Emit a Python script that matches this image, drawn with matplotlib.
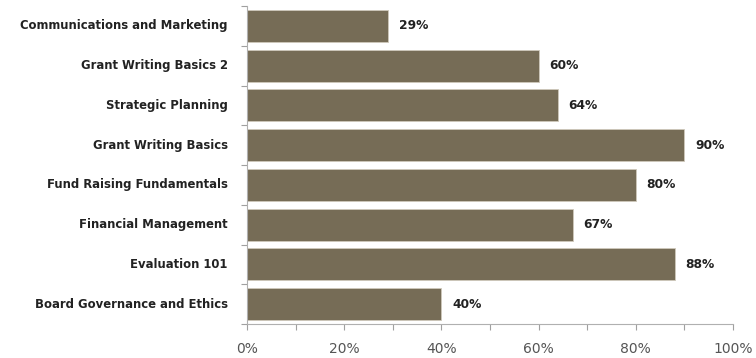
import matplotlib
matplotlib.use("Agg")
import matplotlib.pyplot as plt
import numpy as np
from matplotlib.ticker import FixedLocator, FuncFormatter

categories = ["Board Governance and Ethics", "Evaluation 101", "Financial Management",
              "Fund Raising Fundamentals", "Grant Writing Basics", "Strategic Planning",
              "Grant Writing Basics 2", "Communications and Marketing"]
values = [40, 88, 67, 80, 90, 64, 60, 29]
x_ticks = [0, 20, 40, 60, 80, 100]

fig = plt.figure(figsize=(7.56, 3.58), dpi=100)
ax = fig.add_axes([247/756, 1-324/358, 486/756, 318/358])

y = np.arange(len(categories))
ax.barh(y, values, height=0.8, color="#766c56", edgecolor="#cfc9bb", linewidth=0.6)
for yi, v in zip(y, values):
    ax.text(v + 2.2, yi, f"{v}%", va="center", ha="left", fontsize=8.8,
            fontweight="bold", color="#222222")

ax.set_xlim(0, 100)
ax.set_ylim(-0.5, len(categories) - 0.5)
ax.set_yticks(y)
ax.set_yticklabels(categories, fontsize=8.4, fontweight="bold", color="#222222", va="center")
ax.tick_params(axis="y", length=0, pad=14)
ax.yaxis.set_minor_locator(FixedLocator(np.arange(-0.5, len(categories), 1.0)))
ax.tick_params(axis="y", which="minor", length=4, color="#a0a0a0", width=0.8)

ax.set_xticks(x_ticks)
ax.xaxis.set_major_formatter(FuncFormatter(lambda v, p: f"{int(v)}%"))
ax.xaxis.set_minor_locator(FixedLocator(np.arange(10, 100, 20)))
ax.tick_params(axis="x", which="both", length=4, color="#a0a0a0", width=0.8,
               labelsize=10, labelcolor="#555555", pad=9)

for s in ["top", "right"]:
    ax.spines[s].set_visible(False)
for s in ["left", "bottom"]:
    ax.spines[s].set_color("#b0b0b0")
    ax.spines[s].set_linewidth(0.8)

fig.savefig("out.png", dpi=100)
